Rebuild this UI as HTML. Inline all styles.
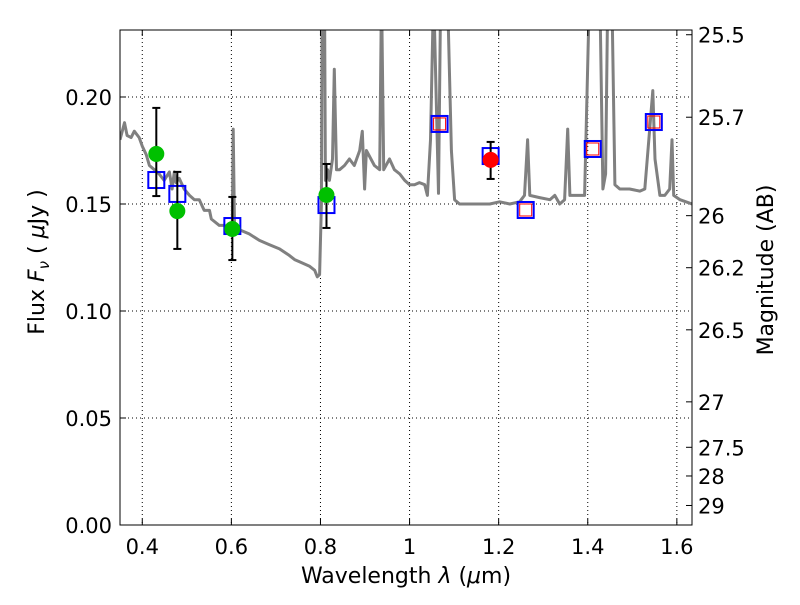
<!DOCTYPE html>
<html><head><meta charset="utf-8"><style>
body{margin:0;background:#fff;}
svg text{font-family:"DejaVu Sans","Liberation Sans",sans-serif;fill:#000;}
</style></head><body>
<svg id="chart" width="800" height="600" xmlns="http://www.w3.org/2000/svg"></svg>
<script>
const specLam=[0.35,0.360,0.366,0.375,0.382,0.393,0.400,0.409,0.416,0.427,0.438,0.449,0.461,0.467,0.472,0.476,0.483,0.494,0.506,0.517,0.528,0.539,0.551,0.555,0.573,0.584,0.596,0.602,0.604,0.607,0.618,0.640,0.663,0.685,0.708,0.730,0.742,0.753,0.775,0.787,0.793,0.798,0.802,0.804,0.809,0.811,0.816,0.820,0.827,0.831,0.836,0.843,0.854,0.865,0.876,0.888,0.894,0.899,0.903,0.921,0.933,0.937,0.942,0.955,0.966,0.978,0.989,1.000,1.011,1.022,1.034,1.040,1.047,1.054,1.065,1.070,1.085,1.094,1.101,1.112,1.135,1.157,1.180,1.202,1.225,1.247,1.258,1.265,1.270,1.292,1.315,1.326,1.337,1.348,1.355,1.360,1.371,1.393,1.404,1.427,1.434,1.440,1.445,1.454,1.461,1.472,1.494,1.517,1.528,1.539,1.546,1.551,1.562,1.573,1.584,1.589,1.593,1.607,1.634];
const specFlux=[0.180,0.188,0.182,0.181,0.184,0.181,0.177,0.173,0.168,0.166,0.164,0.161,0.165,0.157,0.165,0.160,0.162,0.157,0.154,0.152,0.152,0.147,0.147,0.143,0.140,0.140,0.139,0.140,0.185,0.140,0.138,0.136,0.133,0.131,0.129,0.126,0.124,0.123,0.121,0.119,0.116,0.117,0.150,0.25,0.25,0.161,0.166,0.161,0.171,0.213,0.166,0.166,0.168,0.171,0.168,0.175,0.184,0.157,0.175,0.168,0.166,0.25,0.166,0.171,0.166,0.164,0.161,0.159,0.159,0.160,0.159,0.154,0.180,0.25,0.155,0.25,0.25,0.175,0.152,0.150,0.150,0.150,0.150,0.151,0.150,0.151,0.154,0.180,0.154,0.153,0.152,0.154,0.150,0.152,0.185,0.154,0.154,0.154,0.25,0.25,0.157,0.164,0.25,0.25,0.159,0.157,0.157,0.156,0.157,0.185,0.203,0.171,0.154,0.154,0.157,0.180,0.154,0.152,0.150];
const obsLam=[0.4315,0.4787,0.6022,0.8135];
const obsFlux=[0.1734,0.1467,0.1383,0.1542];
const obsLo=[0.1537,0.129,0.1238,0.1388];
const obsHi=[0.1949,0.165,0.1533,0.1687];
const redLam=[1.182];const redFlux=[0.1706];const redLo=[0.1617];const redHi=[0.179];
const modLam=[0.4315,0.4787,0.6022,0.8135,1.0674,1.182,1.2607,1.4112,1.5483];
const modFlux=[0.1612,0.1547,0.1397,0.1495,0.1874,0.1724,0.1472,0.1757,0.1883];
const predLam=[1.0674,1.2607,1.4112,1.5483];
const predFlux=[0.1874,0.1472,0.1757,0.1883];
const xTicks=[0.4,0.6,0.8,1.0,1.2,1.4,1.6];
const xTickLabels=["0.4","0.6","0.8","1","1.2","1.4","1.6"];
const yTicks=[0,0.05,0.10,0.15,0.20];
const yTickLabels=["0.00","0.05","0.10","0.15","0.20"];
const magTicks=[25.5,25.7,26,26.2,26.5,27,27.5,28,29];
const magLabels=["25.5","25.7","26","26.2","26.5","27","27.5","28","29"];

const L=120,R=692,T=30,B=525,X0=0.35,X1=1.634,Y0=0,Y1=0.2313;
const sx=v=>L+(v-X0)/(X1-X0)*(R-L);
const sy=v=>B-(v-Y0)/(Y1-Y0)*(B-T);
const svg=document.getElementById('chart');
const NS="http://www.w3.org/2000/svg";
function mk(tag,attrs,parent){const e=document.createElementNS(NS,tag);for(const k in attrs)e.setAttribute(k,attrs[k]);(parent||svg).appendChild(e);return e;}

const defs=mk('defs',{});const cp=mk('clipPath',{id:'clip'},defs);mk('rect',{x:L,y:T,width:R-L,height:B-T},cp);

xTicks.forEach(v=>{const g=mk('line',{x1:sx(v),x2:sx(v),y1:T,y2:B,stroke:'#000','stroke-dasharray':'1,3','stroke-width':1});

});
yTicks.forEach(v=>{const g=mk('line',{x1:L,x2:R,y1:sy(v),y2:sy(v),stroke:'#000','stroke-dasharray':'1,3','stroke-width':1});

});

const pts=specLam.map((l,i)=>sx(l).toFixed(1)+','+sy(specFlux[i]).toFixed(1)).join(' ');
const sp=mk('polyline',{points:pts,fill:'none',stroke:'#808080','stroke-width':3,'stroke-linejoin':'round','clip-path':'url(#clip)'});



modLam.forEach((l,i)=>{const r=mk('rect',{x:sx(l)-8,y:sy(modFlux[i])-8,width:16,height:16,fill:'none',stroke:'#0000ff','stroke-width':2});

});
predLam.forEach((l,i)=>{const r=mk('rect',{x:sx(l)-6,y:sy(predFlux[i])-6,width:12,height:12,fill:'none',stroke:'#ff0000','stroke-width':1});

});

function errbar(l,lo,hi){const x=sx(l);const g=mk('g',{stroke:'#000','stroke-width':2});


mk('line',{x1:x,x2:x,y1:sy(lo),y2:sy(hi)},g);mk('line',{x1:x-4,x2:x+4,y1:sy(lo),y2:sy(lo)},g);mk('line',{x1:x-4,x2:x+4,y1:sy(hi),y2:sy(hi)},g);}
obsLam.forEach((l,i)=>{errbar(l,obsLo[i],obsHi[i]);const c=mk('circle',{cx:sx(l),cy:sy(obsFlux[i]),r:8,fill:'#00c000'});

});
redLam.forEach((l,i)=>{errbar(l,redLo[i],redHi[i]);const c=mk('circle',{cx:sx(l),cy:sy(redFlux[i]),r:8,fill:'#ff0000'});

});

const fr=mk('rect',{x:L,y:T,width:R-L,height:B-T,fill:'none',stroke:'#000','stroke-width':1});



xTicks.forEach((v,i)=>{const x=sx(v);mk('line',{x1:x,x2:x,y1:B,y2:B-6,stroke:'#000'});mk('line',{x1:x,x2:x,y1:T,y2:T+6,stroke:'#000'});
const t=mk('text',{x:x,y:B+29,'text-anchor':'middle','font-size':21});t.textContent=xTickLabels[i];

});
yTicks.forEach((v,i)=>{const y=sy(v);mk('line',{x1:L,x2:L+6,y1:y,y2:y,stroke:'#000'});
const t=mk('text',{x:L-8,y:y+8,'text-anchor':'end','font-size':21});t.textContent=yTickLabels[i];

});
magTicks.forEach((m,i)=>{const f=Math.pow(10,(23.9-m)/2.5);const y=sy(f);mk('line',{x1:R,x2:R-6,y1:y,y2:y,stroke:'#000'});
const t=mk('text',{x:R+6,y:y+8,'font-size':21});t.textContent=magLabels[i];

});

let t=mk('text',{x:406,y:583,'text-anchor':'middle','font-size':22});t.innerHTML='Wavelength  <tspan font-style="italic">λ</tspan> (<tspan font-style="italic">μ</tspan>m)';


t=mk('text',{x:0,y:0,'text-anchor':'middle','font-size':22,transform:'translate(44,262) rotate(-90)'});t.innerHTML='Flux  <tspan font-style="italic">F</tspan><tspan font-style="italic" font-size="15" dy="5">ν</tspan><tspan dy="-5">  (  </tspan><tspan font-style="italic">μ</tspan>Jy )';


t=mk('text',{x:0,y:0,'text-anchor':'middle','font-size':22,transform:'translate(773,270) rotate(-90)'});t.textContent='Magnitude (AB)';


</script>
</body></html>
